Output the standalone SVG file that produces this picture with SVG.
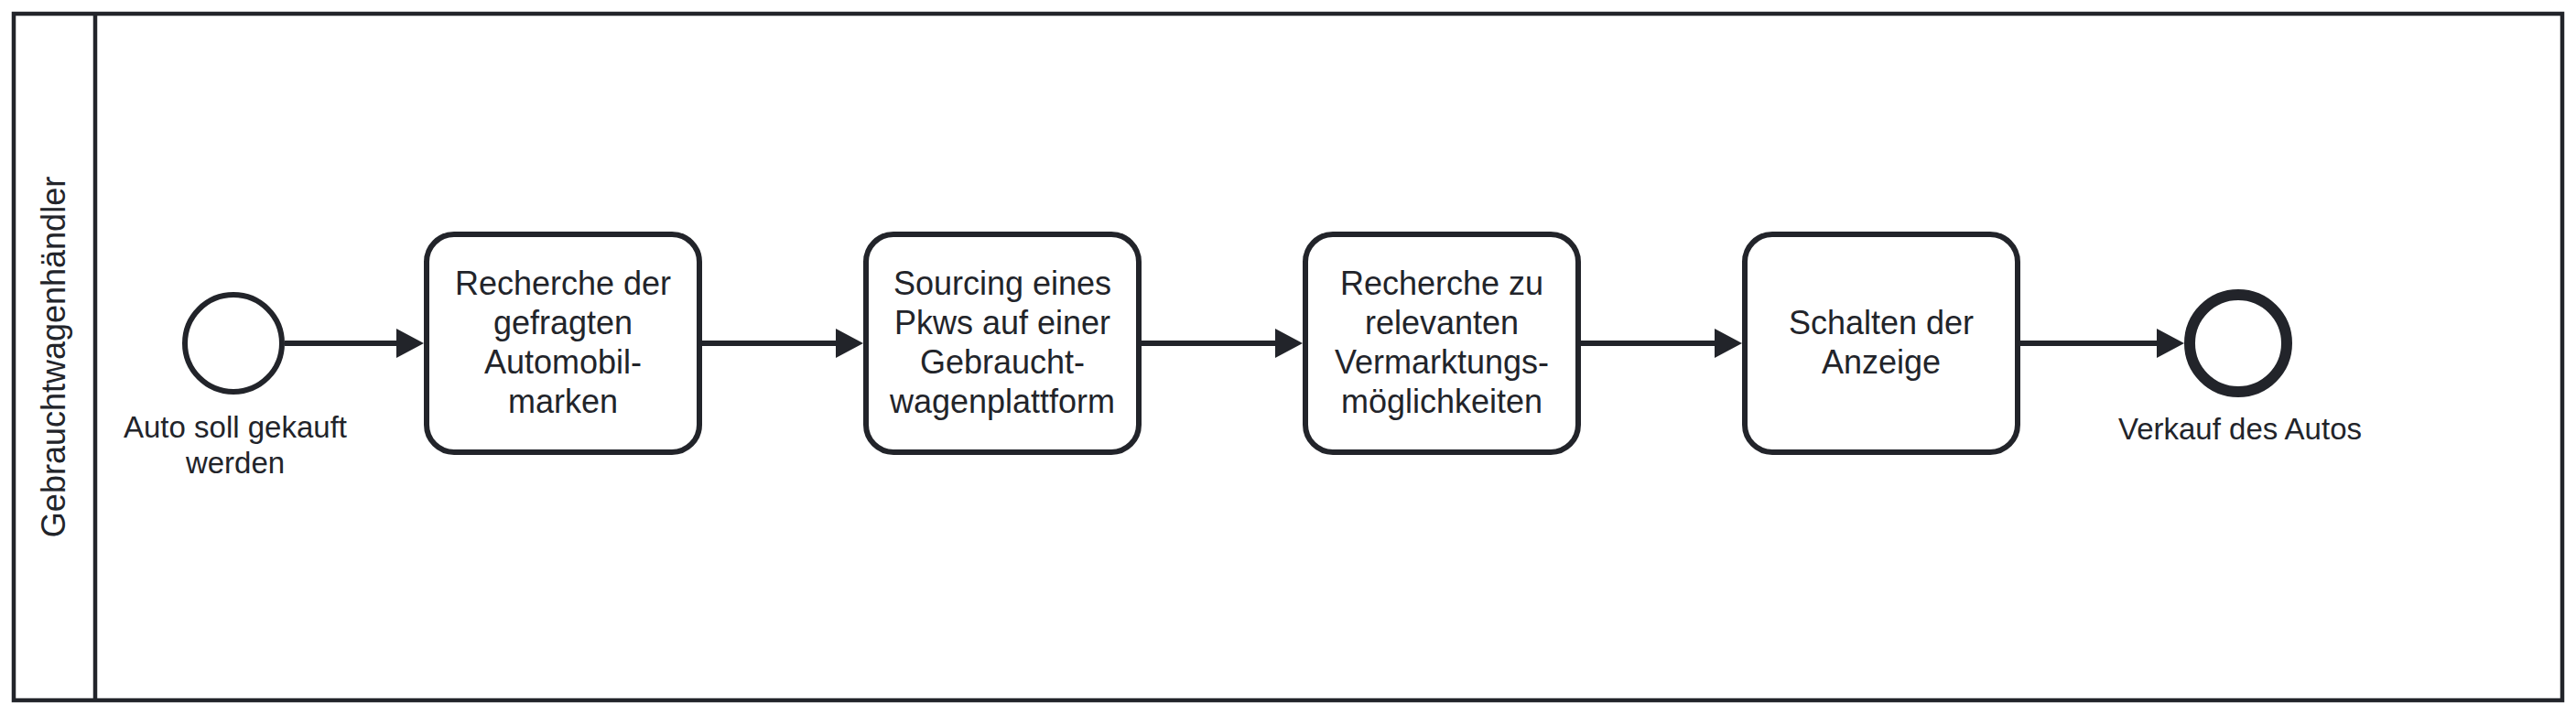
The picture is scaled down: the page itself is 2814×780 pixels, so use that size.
<svg xmlns="http://www.w3.org/2000/svg" width="2814" height="780" viewBox="0 0 2814 780">
<style>
  .shape { fill: #ffffff; stroke: #22242a; }
  .task { stroke-width: 6; }
  .lane { fill: #ffffff; stroke: #22242a; stroke-width: 4.5; }
  .flow { fill: none; stroke: #22242a; stroke-width: 6; marker-end: url(#arrow); }
  .t { font-family: "Liberation Sans", Arial, sans-serif; fill: #22242a; text-anchor: middle; }
  .tl { font-size: 36px; }
  .lbl { font-size: 33px; }
</style>
<defs>
  <marker id="arrow" markerUnits="userSpaceOnUse" markerWidth="32" markerHeight="34" refX="20" refY="16" orient="auto">
    <path d="M0,0 L30,16 L0,32 Z" fill="#22242a"/>
  </marker>
</defs>
<rect width="2814" height="780" fill="#ffffff"/>
<g id="pool">
  <rect class="lane" x="15" y="15" width="2784" height="750"/>
  <line x1="104" y1="15" x2="104" y2="765" stroke="#22242a" stroke-width="4.5"/>
  <text class="t tl" transform="translate(71,390) rotate(-90)" x="0" y="0">Gebrauchtwagenhändler</text>
</g>
<g id="connectors">
  <line class="flow" x1="311" y1="375" x2="453" y2="375"/>
  <line class="flow" x1="767" y1="375" x2="933" y2="375"/>
  <line class="flow" x1="1247" y1="375" x2="1413" y2="375"/>
  <line class="flow" x1="1727" y1="375" x2="1893" y2="375"/>
  <line class="flow" x1="2207" y1="375" x2="2376" y2="375"/>
</g>
<g id="start">
  <circle class="shape" cx="255" cy="375" r="53" stroke-width="6"/>
  <text class="t lbl" x="257" y="478">Auto soll gekauft</text>
  <text class="t lbl" x="257" y="517">werden</text>
</g>
<g id="task1">
  <rect class="shape task" x="466" y="256" width="298" height="238" rx="30" ry="30"/>
  <text class="t tl" x="615" y="322">Recherche der</text>
  <text class="t tl" x="615" y="365">gefragten</text>
  <text class="t tl" x="615" y="408">Automobil-</text>
  <text class="t tl" x="615" y="451">marken</text>
</g>
<g id="task2">
  <rect class="shape task" x="946" y="256" width="298" height="238" rx="30" ry="30"/>
  <text class="t tl" x="1095" y="322">Sourcing eines</text>
  <text class="t tl" x="1095" y="365">Pkws auf einer</text>
  <text class="t tl" x="1095" y="408">Gebraucht-</text>
  <text class="t tl" x="1095" y="451">wagenplattform</text>
</g>
<g id="task3">
  <rect class="shape task" x="1426" y="256" width="298" height="238" rx="30" ry="30"/>
  <text class="t tl" x="1575" y="322">Recherche zu</text>
  <text class="t tl" x="1575" y="365">relevanten</text>
  <text class="t tl" x="1575" y="408">Vermarktungs-</text>
  <text class="t tl" x="1575" y="451">möglichkeiten</text>
</g>
<g id="task4">
  <rect class="shape task" x="1906" y="256" width="298" height="238" rx="30" ry="30"/>
  <text class="t tl" x="2055" y="365">Schalten der</text>
  <text class="t tl" x="2055" y="408">Anzeige</text>
</g>
<g id="end">
  <circle class="shape" cx="2445" cy="375" r="53" stroke-width="12"/>
  <text class="t lbl" x="2447" y="480">Verkauf des Autos</text>
</g>
</svg>
